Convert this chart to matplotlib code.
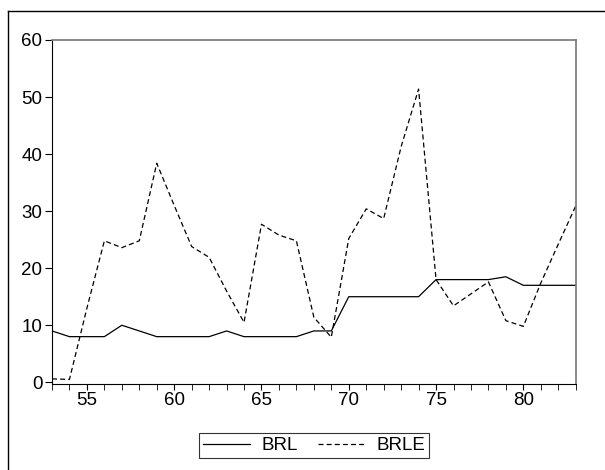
import numpy as np
import matplotlib.pyplot as plt
from matplotlib.lines import Line2D

plt.rcParams["font.family"] = ["Liberation Sans", "DejaVu Sans"]

years = np.arange(53, 84)
brl = [9, 8, 8, 8, 10, 9, 8, 8, 8, 8, 9, 8, 8, 8, 8, 9, 9,
       15, 15, 15, 15, 15, 18, 18, 18, 18, 18.5, 17, 17, 17, 17]
brle = [0.6, 0.5, 13, 24.8, 23.6, 24.8, 38.4, 31, 23.8, 21.9, 16, 10.5,
        27.7, 25.8, 24.8, 11.4, 7.9, 25.2, 30.4, 28.7, 41.3, 51.4, 18,
        13.4, 15.5, 17.6, 10.8, 9.8, 17.4, 24.2, 30.9]

fig = plt.figure(figsize=(6.05, 4.7), dpi=100)
ax = fig.add_axes([52 / 605, 1 - 384 / 470, 523.7 / 605, 344 / 470])

ax.plot(years, brl, color="black", linewidth=0.9, label="BRL")
ax.plot(years, brle, color="black", linewidth=0.9, linestyle=(0, (4, 2.5)),
        label="BRLE")

ax.set_xlim(53, 83)
ax.set_ylim(-0.3, 60)
ax.set_xticks([55, 60, 65, 70, 75, 80])
ax.set_xticks(np.arange(53, 84), minor=True)
ax.set_yticks(np.arange(0, 61, 10))
ax.tick_params(axis="both", direction="out", labelsize=13.5, width=0.8,
               color="black")
ax.tick_params(axis="x", which="both", length=4, pad=2)
ax.tick_params(axis="y", length=5, pad=2)

for side in ["left", "bottom"]:
    ax.spines[side].set_color("black")
    ax.spines[side].set_linewidth(0.8)
for side in ["top", "right"]:
    ax.spines[side].set_color("#777777")
    ax.spines[side].set_linewidth(1.2)

leg = ax.legend(loc="center", bbox_to_anchor=(314 / 605, 1 - 445.5 / 470),
                bbox_transform=fig.transFigure, ncol=2, frameon=True,
                fancybox=False, fontsize=13.5, handlelength=2.5,
                columnspacing=1.1, handletextpad=0.6, borderpad=0.2)
leg.get_frame().set_edgecolor("black")
leg.get_frame().set_linewidth(0.8)

# outer frame (left and top edges only are visible)
fig.add_artist(Line2D([8 / 605, 8 / 605], [0, 1 - 11 / 470],
                      color="black", linewidth=1.0))
fig.add_artist(Line2D([8 / 605, 1], [1 - 11 / 470, 1 - 11 / 470],
                      color="black", linewidth=1.0))

fig.savefig("out.png", dpi=100)
